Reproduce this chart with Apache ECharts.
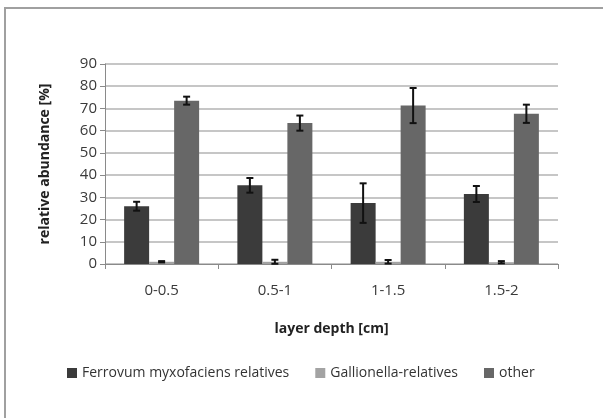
<!DOCTYPE html>
<html>
<head>
<meta charset="utf-8">
<script src="https://cdn.jsdelivr.net/npm/echarts@6/dist/echarts.min.js"></script>
<style>
  html, body { margin: 0; padding: 0; background: #fff; }
  #chart { width: 603px; height: 418px; }
</style>
</head>
<body>
<div id="chart"></div>
<script>
// Layer depths and mean relative abundance (%) with standard deviation
const depths = ['0-0.5', '0.5-1', '1-1.5', '1.5-2'];
const seriesNames = ['Ferrovum myxofaciens relatives', 'Gallionella-relatives', 'other'];
const ferrovum = [26, 35.4, 27.4, 31.5];
const ferrovumErr = [2, 3.3, 8.9, 3.6];
const gallionella = [1, 1, 1, 0.8];
const gallionellaErr = [0.3, 0.9, 0.8, 0.5];
const other = [73.5, 63.4, 71.3, 67.6];
const otherErr = [1.8, 3.4, 7.9, 4.1];
const yTicks = [0, 10, 20, 30, 40, 50, 60, 70, 80, 90];

const values = [ferrovum, gallionella, other];
const errors = [ferrovumErr, gallionellaErr, otherErr];
const colors = ['#3b3b3b', '#a3a3a3', '#676767'];
const FONT = '"Open Sans", "Noto Sans", sans-serif';
const BAR_W = 25;

const chart = echarts.init(document.getElementById('chart'));

// Whisker drawn for one bar of a group (index k of 3)
function errorSeries(k) {
  const data = depths.map((d, i) => [i, values[k][i] - errors[k][i], values[k][i] + errors[k][i]]);
  return {
    type: 'custom',
    name: seriesNames[k] + ' sd',
    silent: true,
    z: 10,
    data: data,
    renderItem: function (params, api) {
      const idx = api.value(0);
      const lo = api.coord([idx, api.value(1)]);
      const hi = api.coord([idx, api.value(2)]);
      const x = lo[0] + (k - 1) * BAR_W;
      const cap = 3.5;
      const style = { stroke: '#111', lineWidth: 2 };
      return {
        type: 'group',
        children: [
          { type: 'line', shape: { x1: x, y1: lo[1], x2: x, y2: hi[1] }, style: style },
          { type: 'line', shape: { x1: x - cap, y1: lo[1], x2: x + cap, y2: lo[1] }, style: style },
          { type: 'line', shape: { x1: x - cap, y1: hi[1], x2: x + cap, y2: hi[1] }, style: style }
        ]
      };
    }
  };
}

const barSeries = seriesNames.map((name, k) => ({
  type: 'bar',
  name: name,
  data: values[k],
  barWidth: BAR_W,
  barGap: '0%',
  itemStyle: { color: colors[k] }
}));

chart.setOption({
  animation: false,
  backgroundColor: '#fff',
  textStyle: { fontFamily: FONT },
  graphic: [{
    type: 'rect',
    shape: { x: 5, y: 8, width: 640, height: 460 },
    style: { fill: 'none', stroke: '#a0a0a0', lineWidth: 2 },
    z: -1
  }],
  grid: { left: 105, right: 45, top: 64, bottom: 154 },
  legend: {
    data: seriesNames,
    left: 62,
    top: 361,
    itemWidth: 10,
    itemHeight: 10,
    itemGap: 26,
    icon: 'rect',
    textStyle: { fontFamily: FONT, fontSize: 14, color: '#333' }
  },
  xAxis: {
    type: 'category',
    data: depths,
    name: 'layer depth [cm]',
    nameLocation: 'middle',
    nameGap: 58,
    nameTextStyle: { fontFamily: FONT, fontSize: 14, fontWeight: 'bold', color: '#222' },
    axisLine: { lineStyle: { color: '#8a8a8a', width: 1 } },
    axisTick: { show: true, length: 5, lineStyle: { color: '#8a8a8a' } },
    axisLabel: { fontFamily: FONT, fontSize: 15, color: '#3a3a3a', margin: 19 }
  },
  yAxis: {
    type: 'value',
    min: 0,
    max: 90,
    interval: 10,
    name: 'relative abundance [%]',
    nameLocation: 'middle',
    nameGap: 53,
    nameTextStyle: { fontFamily: FONT, fontSize: 14, fontWeight: 'bold', color: '#222' },
    axisLine: { show: true, lineStyle: { color: '#8a8a8a', width: 1 } },
    axisTick: { show: true, length: 5, lineStyle: { color: '#8a8a8a' } },
    axisLabel: {
      fontFamily: FONT, fontSize: 15, color: '#3a3a3a', margin: 8,
      formatter: v => (yTicks.indexOf(v) >= 0 ? String(v) : '')
    },
    splitLine: { lineStyle: { color: '#b3b3b3', width: 1.5 } }
  },
  series: barSeries.concat([0, 1, 2].map(errorSeries))
});
</script>
</body>
</html>
